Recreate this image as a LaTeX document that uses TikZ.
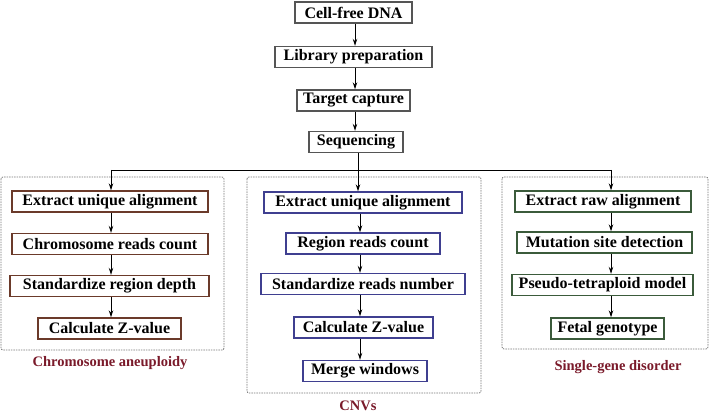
\documentclass[tikz,border=0pt]{standalone}
\usepackage{fontspec}
\setmainfont{Liberation Serif}
\usetikzlibrary{arrows.meta}
\definecolor{topc}{HTML}{555555}
\definecolor{leftc}{HTML}{6B3A2A}
\definecolor{midc}{HTML}{3F3F90}
\definecolor{rightc}{HTML}{3B5B3B}
\definecolor{labc}{HTML}{7A1A2A}
\definecolor{dashc}{HTML}{777777}
\tikzset{
  boxbase/.style={draw, line width=1.4pt, fill=white, inner sep=0pt, minimum height=21pt,
    font=\bfseries\fontsize{16}{18}\selectfont},
  topbox/.style={boxbase, draw=topc},
  leftbox/.style={boxbase, draw=leftc},
  midbox/.style={boxbase, draw=midc},
  rightbox/.style={boxbase, draw=rightc},
  grouplab/.style={text=labc, font=\bfseries\fontsize{14.5}{16}\selectfont, inner sep=0pt},
  groupframe/.style={draw=dashc, line width=0.8pt, dash pattern=on 1.5pt off 1pt, rounded corners=2pt},
  arr/.style={draw=black, line width=0.9pt, -{Stealth[length=7pt,width=4.5pt]}},
  ln/.style={draw=black, line width=0.9pt}
}
\begin{document}
\begin{tikzpicture}[x=1pt,y=-1pt]
\useasboundingbox (0,0) rectangle (709,414);
% group frames
\draw[groupframe] (1,177) rectangle (224,350);
\draw[groupframe] (247,177) rectangle (481,393);
\draw[groupframe] (502,177) rectangle (708,349);
% top chain
\node[topbox, minimum width=117pt] (cf) at (353.5,12.5) {Cell-free DNA};
\node[topbox, minimum width=157pt] (lib) at (353.5,57) {Library preparation};
\node[topbox, minimum width=113pt] (tc) at (353.5,100.5) {Target capture};
\node[topbox, minimum width=94pt] (seq) at (356,142) {Sequencing};
% left column
\node[leftbox, minimum width=196pt] (l1) at (110,201.5) {Extract unique alignment};
\node[leftbox, minimum width=196pt] (l2) at (110,244) {Chromosome reads count};
\node[leftbox, minimum width=199pt] (l3) at (109.5,286) {Standardize region depth};
\node[leftbox, minimum width=143pt] (l4) at (109.5,328.5) {Calculate Z-value};
\node[grouplab] (lab1) at (110,363) {Chromosome aneuploidy};
% middle column
\node[midbox, minimum width=198pt] (m1) at (363,202.5) {Extract unique alignment};
\node[midbox, minimum width=154pt] (m2) at (363,243.5) {Region reads count};
\node[midbox, minimum width=204pt] (m3) at (363,284) {Standardize reads number};
\node[midbox, minimum width=139pt] (m4) at (363.5,327.5) {Calculate Z-value};
\node[midbox, minimum width=124pt] (m5) at (365,371) {Merge windows};
\node[grouplab] (lab2) at (358,406) {CNVs};
% right column
\node[rightbox, minimum width=176pt] (r1) at (603,201.5) {Extract raw alignment};
\node[rightbox, minimum width=175pt] (r2) at (604.5,242.5) {Mutation site detection};
\node[rightbox, minimum width=181pt] (r3) at (602.5,285) {Pseudo-tetraploid model};
\node[rightbox, minimum width=113pt] (r4) at (607.5,328.5) {Fetal genotype};
\node[grouplab] (lab3) at (618,367) {Single-gene disorder};
% top arrows
\coordinate (tx) at (355,0);
\draw[arr] (cf.south -| tx) -- (lib.north -| tx);
\draw[arr] (lib.south -| tx) -- (tc.north -| tx);
\draw[arr] (tc.south -| tx) -- (seq.north -| tx);
% branch
\coordinate (lx) at (111,170);
\coordinate (mx) at (358,170);
\coordinate (rx) at (611,170);
\draw[ln] (seq.south -| mx) -- (mx);
\draw[ln] (lx) -- (rx);
\draw[arr] (lx) -- (l1.north -| lx);
\draw[arr] (mx) -- (m1.north -| mx);
\draw[arr] (rx) -- (r1.north -| rx);
% left arrows
\draw[arr] (l1.south -| lx) -- (l2.north -| lx);
\draw[arr] (l2.south -| lx) -- (l3.north -| lx);
\draw[arr] (l3.south -| lx) -- (l4.north -| lx);
% middle arrows
\coordinate (mx2) at (360,0);
\draw[arr] (m1.south -| mx2) -- (m2.north -| mx2);
\draw[arr] (m2.south -| mx2) -- (m3.north -| mx2);
\draw[arr] (m3.south -| mx2) -- (m4.north -| mx2);
\draw[arr] (m4.south -| mx2) -- (m5.north -| mx2);
% right arrows
\draw[arr] (r1.south -| rx) -- (r2.north -| rx);
\draw[arr] (r2.south -| rx) -- (r3.north -| rx);
\draw[arr] (r3.south -| rx) -- (r4.north -| rx);
\end{tikzpicture}
\end{document}
